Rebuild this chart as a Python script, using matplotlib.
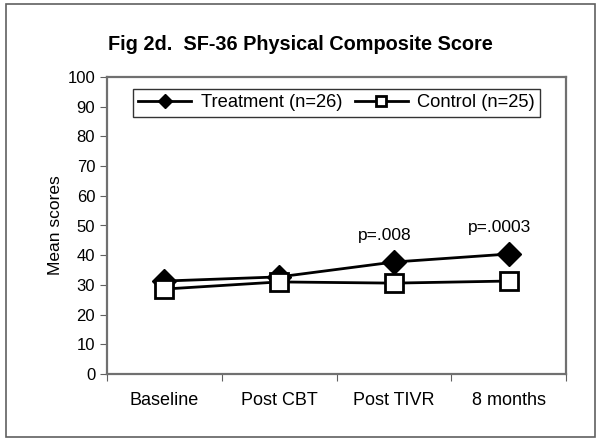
import matplotlib.pyplot as plt
from matplotlib.patches import Rectangle

plt.rcParams['font.family'] = ['Liberation Sans', 'DejaVu Sans']

# data
timepoints = ['Baseline', 'Post CBT', 'Post TIVR', '8 months']
treatment = [31.3, 32.7, 37.7, 40.4]
control = [28.6, 31.0, 30.6, 31.3]
pvalues = ['', '', 'p=.008', 'p=.0003']

fig = plt.figure(figsize=(6.01, 4.40), dpi=100)
ax = fig.add_axes([0.178, 0.15, 0.764, 0.675])

x = list(range(len(timepoints)))
ax.plot(x, treatment, color='black', lw=2, marker='D', markersize=12,
        markerfacecolor='black', label='Treatment (n=26)', zorder=3)
ax.plot(x, control, color='black', lw=2, marker='s', markersize=13,
        markerfacecolor='white', markeredgewidth=2, label='Control (n=25)', zorder=3)

for xi, yi, p in zip(x, treatment, pvalues):
    if p:
        ax.text(xi - 0.08, yi + 6.5, p, ha='center', va='bottom', fontsize=12.5)

ax.set_xlim(-0.5, 3.5)
ax.set_ylim(0, 100)
ax.set_yticks(range(0, 101, 10))
ax.set_xticks([-0.5, 0.5, 1.5, 2.5, 3.5])
ax.set_xticklabels([])
ax.set_xticks(x, minor=True)
ax.set_xticklabels(timepoints, minor=True, fontsize=13)
ax.tick_params(axis='x', which='minor', length=0, pad=13)
ax.tick_params(axis='x', which='major', length=5, direction='out', color='#606060')
ax.tick_params(axis='y', length=5, direction='out', color='#606060', labelsize=12)
for s in ax.spines.values():
    s.set_color('#707070')
    s.set_linewidth(1.6)

ax.set_ylabel('Mean scores', fontsize=12.5, labelpad=3)

leg = ax.legend(loc='upper center', ncol=2, fontsize=13.2, frameon=True, fancybox=False,
                edgecolor='black', handlelength=2.9, columnspacing=0.7, handletextpad=0.5,
                borderpad=0.3, borderaxespad=0, markerscale=0.6,
                bbox_to_anchor=(0.5, 0.96))
leg.get_frame().set_linewidth(1)

fig.text(0.5, 0.9, 'Fig 2d.  SF-36 Physical Composite Score', ha='center', va='center',
         fontsize=14.3, fontweight='bold')

fig.patches.append(Rectangle((6 / 601, 3 / 440), 589 / 601, 433 / 440, transform=fig.transFigure,
                             fill=False, edgecolor='#606060', lw=1.2))

fig.savefig('out.png', dpi=100)
